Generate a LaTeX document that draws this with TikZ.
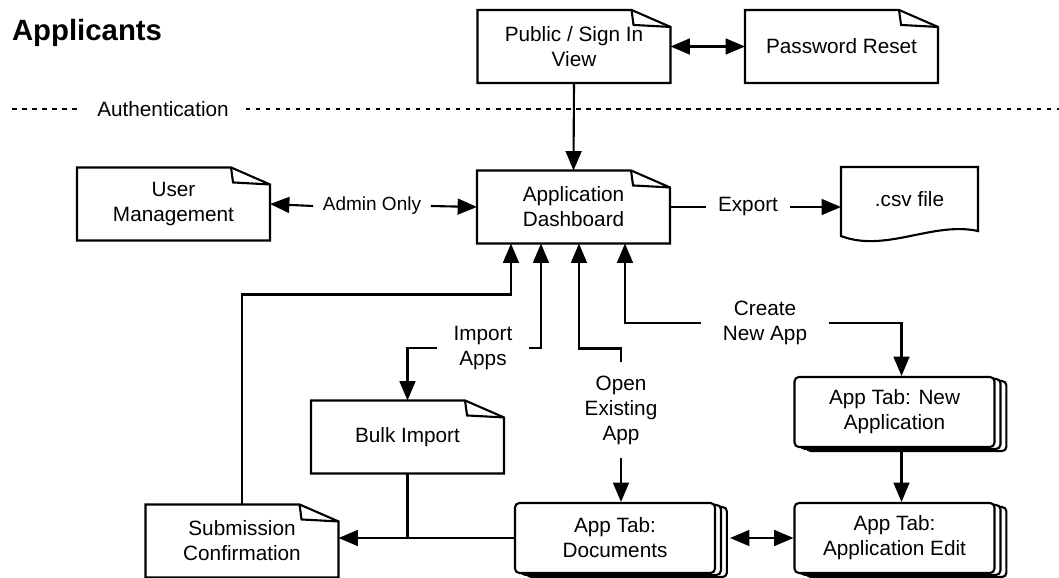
\documentclass[tikz,border=0pt]{standalone}
\usepackage{fontspec}
\setmainfont{Liberation Sans}
\usetikzlibrary{calc,shadows,arrows.meta}

% page outline with a folded top right corner
\newcommand{\dogear}[1]{%
  \draw ($(#1.north east)+(-39,0)$) -- (#1.north west) -- (#1.south west)
    -- (#1.south east) -- ($(#1.north east)+(0,17)$) -- cycle;
  \draw ($(#1.north east)+(-39,0)$) -- ++(2,15) -- ($(#1.north east)+(0,17)$);
}

\begin{document}
\begin{tikzpicture}[x=0.02cm, y=-0.02cm, line width=1.2pt,
  >={Triangle[length=11pt,width=9pt]},
  font=\fontsize{11.8}{14.2}\selectfont,
  note/.style={minimum width=3.82cm, minimum height=1.42cm, align=center, inner sep=0pt},
  appstack/.style={draw, fill=white, rounded corners=2.5pt, minimum width=4cm,
    minimum height=1.4cm, align=center,
    copy shadow={shadow xshift=6.8pt, shadow yshift=-2.3pt, line width=1.2pt},
    copy shadow={shadow xshift=3.4pt, shadow yshift=-1.1pt, line width=1.2pt}},
  lbl/.style={align=center, inner sep=5pt},
  authline/.style={line width=1pt, dash pattern=on 2.6pt off 3.1pt}]
 \useasboundingbox (0,0) rectangle (1059,578);

 \node[anchor=base west, inner sep=0pt, font=\fontsize{16.7}{19}\selectfont\bfseries] (title) at (11,40) {Applicants};

 \node[lbl, inner xsep=9pt] (auth) at (163,109) {Authentication};
 \draw[authline] (12,109) -- (auth.west);
 \draw[authline] (auth.east) -- (1059,109);

 \node[note] (pub) at (574,46.5) {Public / Sign In\\View};
 \node[note] (pwd) at (841.5,46.5) {Password Reset};
 \node[note] (um) at (173.5,204) {User\\Management};
 \node[note] (dash) at (573.5,207) {Application\\Dashboard};
 \node[note] (bulk) at (407.5,437) {Bulk Import};
 \node[note] (sub) at (242,541) {Submission\\Confirmation};
 \node[minimum width=2.7cm, minimum height=1.24cm, inner sep=0pt] (csv) at (909.5,199) {.csv file};

 \dogear{pub}
 \dogear{pwd}
 \dogear{um}
 \dogear{dash}
 \dogear{bulk}
 \dogear{sub}
 \draw (csv.south east) .. controls ($(csv.south east)+(-45,-10)$) and ($(csv.south west)+(45,22)$) .. ($(csv.south west)+(0,5)$)
   -- (csv.north west) -- (csv.north east) -- cycle;

 \node[appstack] (new) at (894.5,412) {App Tab: New\\Application};
 \node[appstack] (edit) at (894.5,538) {App Tab:\\Application Edit};
 \node[appstack] (docs) at (615,538) {App Tab:\\Documents};

 \node[lbl, font=\fontsize{10.8}{13}\selectfont] (admin) at (372,206) {Admin Only};
 \node[lbl, inner xsep=6pt] (export) at (748,207) {Export};
 \node[lbl, inner xsep=9pt] (imp) at (483,348) {Import\\Apps};
 \node[lbl, inner ysep=7pt] (open) at (621,410) {Open\\Existing\\App};
 \node[lbl, inner xsep=12pt] (create) at (765,323) {Create\\New App};

 \draw[<->] (pub.east) -- (pwd.west);
 \draw[->] (pub.south) -- (dash.north);
 \draw[<-] (um.east) -- (admin.west);
 \draw[->] (admin.east) -- (dash.west);
 \draw (dash.east) -- (export.west);
 \draw[->] (export.east) -- (export.east -| csv.west);

 \draw[->] (sub.north) |- ($(dash.south west)+(34,51)$) -- ($(dash.south west)+(34,0)$);
 \draw[->] (imp.east) -| ($(dash.south west)+(64,0)$);
 \draw[->] (imp.west) -| (bulk.north);
 \draw[->] (open.north) |- ($(dash.south west)+(102,105)$) -- ($(dash.south west)+(102,0)$);
 \draw[->] (open.south) -- (open.south |- docs.north);
 \draw[->] (create.west) -| ($(dash.south west)+(148,0)$);
 \draw[->] (create.east) -| ($(new.north)+(7,0)$);
 \draw[->] ($(new.south)+(7,4)$) -- ($(edit.north)+(7,0)$);

 \draw[<->] ($(docs.east)+(14,0)$) -- (edit.west);
 \draw[->] (docs.west) -- (docs.west -| sub.east);
 \draw (bulk.south) -- (bulk.south |- docs.west);
\end{tikzpicture}
\end{document}
